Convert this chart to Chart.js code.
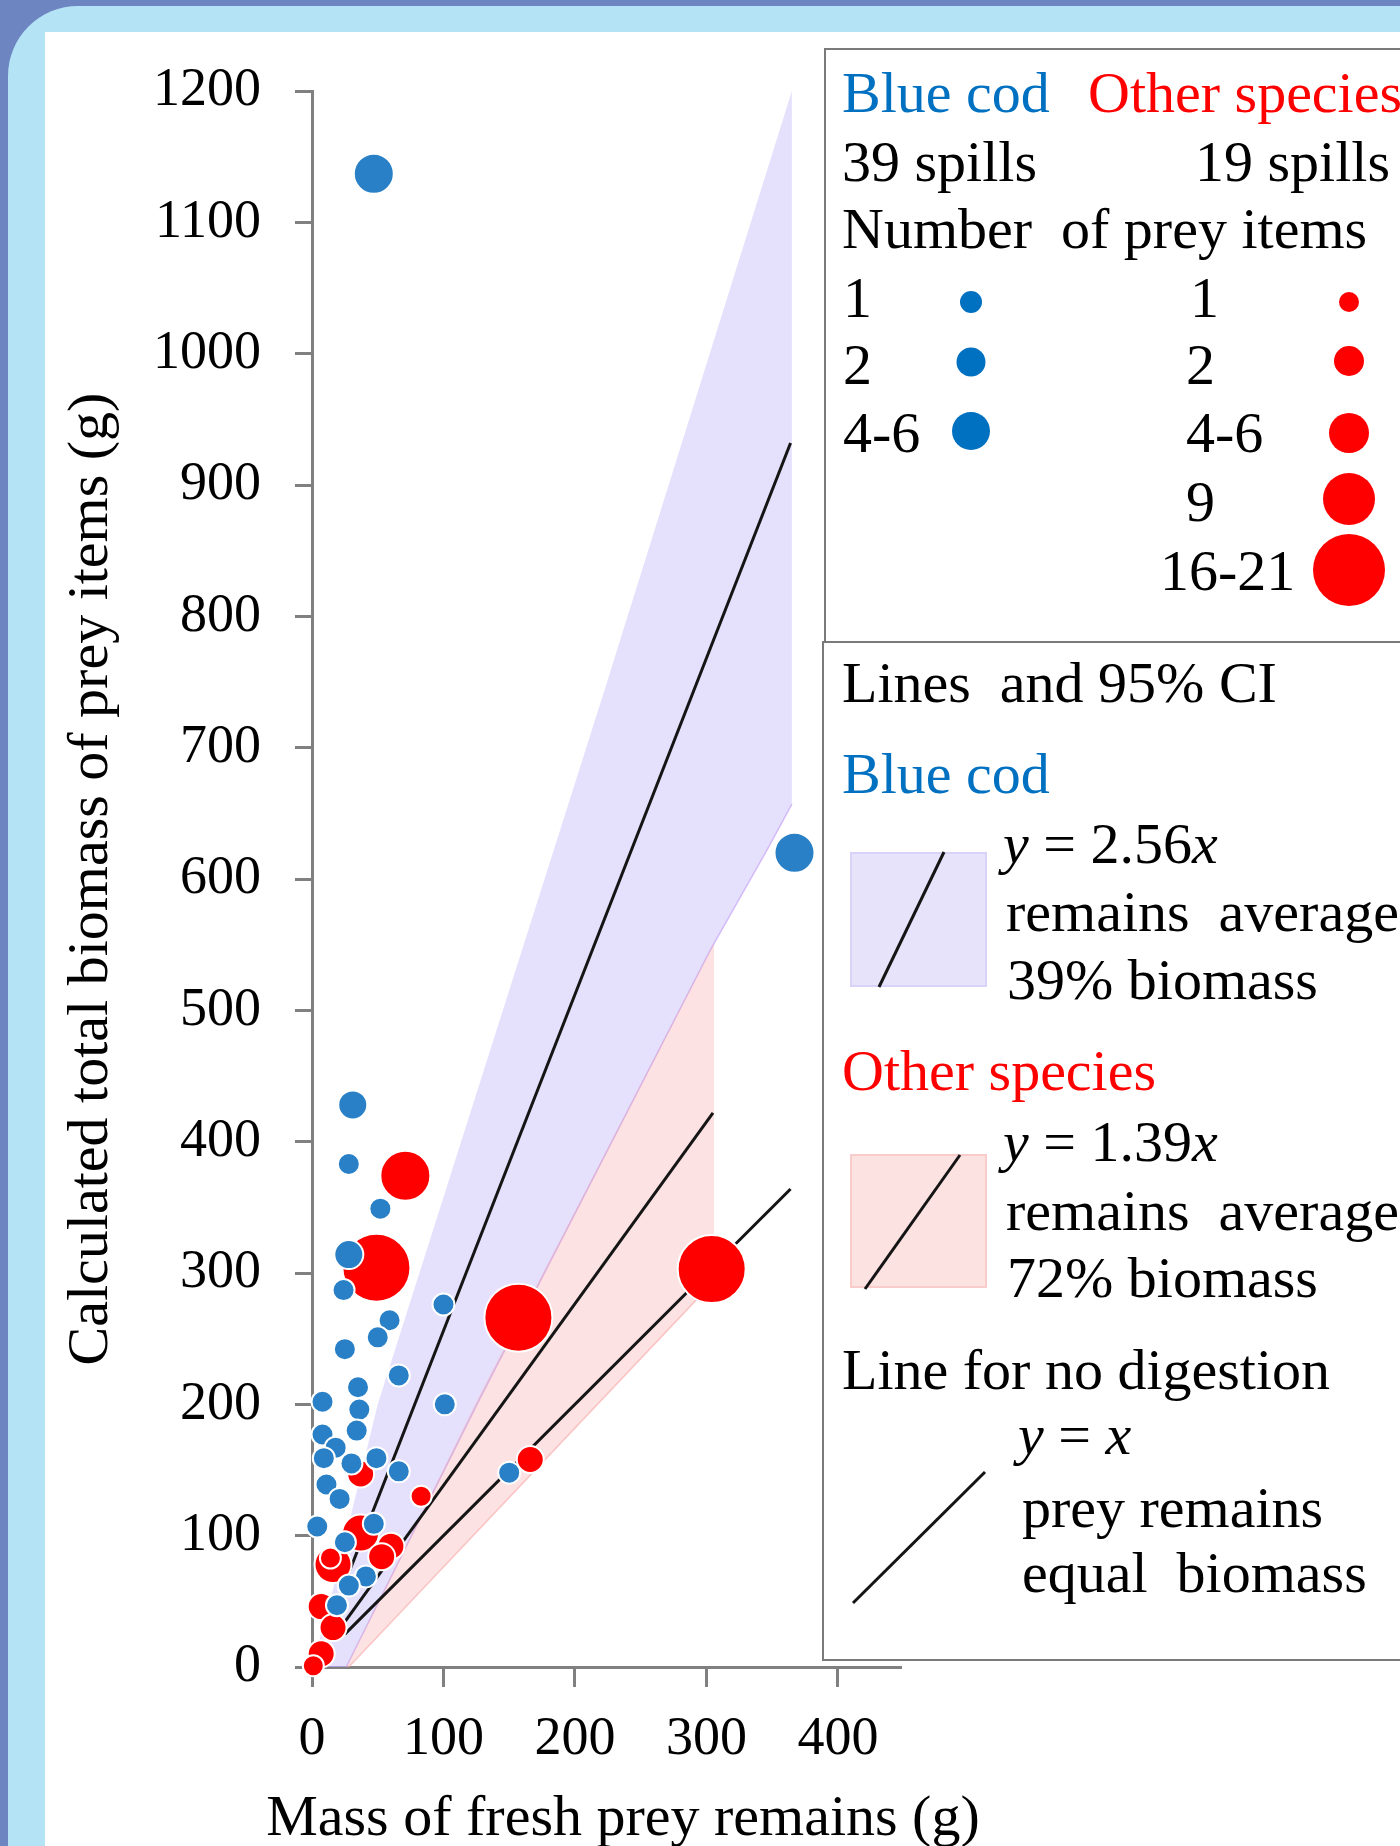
<!DOCTYPE html>
<html lang="en">
<head>
  <meta charset="utf-8">
  <title>Prey remains vs calculated biomass</title>
  <script src="https://cdn.jsdelivr.net/npm/chart.js"></script>
  <style>
    html, body { margin: 0; padding: 0; }
    body {
      width: 1400px; height: 1846px; position: relative; overflow: hidden;
      background: #6d85c0;
      font-family: 'Liberation Serif', 'Times New Roman', serif;
    }
    #frame { position: absolute; left: 8px; top: 6px; width: 1500px; height: 1900px;
             background: #b3e3f5; border-top-left-radius: 70px; }
    #paper { position: absolute; left: 45px; top: 32px; width: 1400px; height: 1846px; background: #fff; }
    #chart { position: absolute; left: 0; top: 0; }
    .box { position: absolute; border: 2px solid #7a7a7a; background: #fff; box-sizing: border-box; }
    #marks { position: absolute; left: 0; top: 0; }
    .t { position: absolute; white-space: pre; line-height: 1; color: #000; }
  </style>
</head>
<body>
  <div id="frame"></div>
  <div id="paper"></div>
  <canvas id="chart" width="1400" height="1846"></canvas>
  <div class="box" style="left:824px; top:48px; width:700px; height:595px;"></div>
  <div class="box" style="left:822px; top:641px; width:700px; height:1020px;"></div>
  <svg id="marks" width="1400" height="1846"></svg>

  <script>
    // axis ticks
    const xTicks = [0, 100, 200, 300, 400];
    const yTicks = [0, 100, 200, 300, 400, 500, 600, 700, 800, 900, 1000, 1100, 1200];

    // prey item classes
    const blueSizes = ['1', '2', '4-6'];
    const redSizes = ['1', '2', '4-6', '9', '16-21'];

    // blue cod spills (x = remains g, y = calculated biomass g, n = index into blueSizes)
    const blueX = [47, 367, 31, 28, 52, 28, 24, 100, 59, 50, 25, 66, 35, 8, 101, 36, 34, 8, 18, 9, 30, 49, 66, 11, 21, 4, 47, 25, 41, 28, 19, 150];
    const blueY = [1137, 620, 428, 383, 349, 314, 287, 276, 264, 251, 242, 222, 213, 202, 200, 196, 180, 177, 167, 159, 155, 159, 149, 139, 128, 107, 109, 95, 69, 62, 47, 148];
    const blueN = [2, 2, 1, 0, 0, 1, 0, 0, 0, 0, 0, 0, 0, 0, 0, 0, 0, 0, 0, 0, 0, 0, 0, 0, 0, 0, 0, 0, 0, 0, 0, 0];

    // other species spills
    const redX = [49, 157, 304, 71, 166, 83, 37, 37, 60, 53, 16, 14, 7, 16, 7, 1];
    const redY = [304, 266, 303, 374, 158, 130, 147, 102, 92, 84, 78, 83, 46, 30, 10, 1];
    const redN = [4, 4, 4, 3, 1, 0, 1, 2, 1, 1, 2, 0, 1, 1, 1, 0];

    // fitted lines (end points)
    const blueFitX = [25, 364];
    const blueFitY = [64, 932];
    const otherFitX = [24, 305];
    const otherFitY = [33, 422];
    const equalX = [25, 364];
    const equalY = [25, 364];

    // 95% CI bands
    const ciBlueUpperX = [0, 14, 50, 220, 365];
    const ciBlueUpperY = [0, 51, 200, 736, 1200];
    const ciBlueLowerX = [0, 26, 127, 303, 346, 365];
    const ciBlueLowerY = [0, 0, 203, 546, 622, 657];
    const ciOtherUpperX = [26, 127, 306];
    const ciOtherUpperY = [0, 206, 552];
    const ciOtherLowerX = [26, 28, 306];
    const ciOtherLowerY = [0, 0, 294];

    const BLUE_TXT = '#0070c0';
    const BLUE_PT = '#2980c6';
    const RED = '#ff0000';
    const blueR = [11, 14.5, 20];
    const redR = [10.5, 13.5, 18.5, 25, 34];

    const pts = (xs, ys) => xs.map((x, i) => ({ x, y: ys[i] }));
    const edge = (xs, ys, fill, color, bw, order) => ({
      data: pts(xs, ys), fill, backgroundColor: color.bg, borderColor: color.line,
      borderWidth: bw, pointRadius: 0, tension: 0, order
    });
    const fitLine = (xs, ys) => ({
      data: pts(xs, ys), borderColor: '#151515', borderWidth: 3,
      pointRadius: 0, fill: false, order: 5
    });

    Chart.defaults.font.family = "'Liberation Serif', 'Times New Roman', serif";
    Chart.defaults.color = '#000';

    const lav = { bg: 'rgba(196,186,250,0.44)', line: 'rgba(196,186,250,0.44)' };
    const lavLow = { bg: 'rgba(0,0,0,0)', line: 'rgba(190,140,240,0.6)' };
    const pink = { bg: 'rgba(245,160,160,0.30)', line: 'rgba(245,160,160,0.3)' };
    const pinkLow = { bg: 'rgba(0,0,0,0)', line: 'rgba(250,170,170,0.6)' };

    new Chart(document.getElementById('chart'), {
      type: 'line',
      data: {
        datasets: [
          edge(ciBlueUpperX, ciBlueUpperY, '+1', lav, 0, 10),
          edge(ciBlueLowerX, ciBlueLowerY, false, lavLow, 1.5, 10),
          edge(ciOtherUpperX, ciOtherUpperY, '+1', pink, 0, 9),
          edge(ciOtherLowerX, ciOtherLowerY, false, pinkLow, 1.5, 9),
          fitLine(blueFitX, blueFitY),
          fitLine(otherFitX, otherFitY),
          fitLine(equalX, equalY),
          {
            label: 'Other species',
            data: pts(redX, redY), showLine: false, order: 2, clip: false,
            pointRadius: redN.map(n => redR[n]),
            pointBackgroundColor: RED, pointBorderColor: '#fff', pointBorderWidth: 2
          },
          {
            label: 'Blue cod',
            data: pts(blueX, blueY), showLine: false, order: 1, clip: false,
            pointRadius: blueN.map(n => blueR[n]),
            pointBackgroundColor: BLUE_PT, pointBorderColor: '#fff', pointBorderWidth: 2
          }
        ]
      },
      options: {
        responsive: false,
        animation: false,
        devicePixelRatio: 1,
        events: [],
        layout: { padding: { left: 0, top: 91, right: 499, bottom: 0 } },
        plugins: { legend: { display: false }, tooltip: { enabled: false } },
        scales: {
          x: {
            type: 'linear', min: 0, max: 448,
            afterBuildTicks: s => { s.ticks = xTicks.map(v => ({ value: v })); },
            afterFit: s => { s.height = 179; },
            border: { color: '#808080', width: 3 },
            grid: { drawOnChartArea: false, drawTicks: true, tickLength: 20, tickColor: '#808080', tickWidth: 3 },
            ticks: { font: { size: 54 }, padding: 20, maxRotation: 0, autoSkip: false, color: '#000',
                     callback: v => String(v) }
          },
          y: {
            type: 'linear', min: 0, max: 1200,
            afterBuildTicks: s => { s.ticks = yTicks.map(v => ({ value: v })); },
            afterFit: s => { s.width = 312; },
            border: { color: '#808080', width: 3 },
            grid: { drawOnChartArea: false, drawTicks: true, tickLength: 17, tickColor: '#808080', tickWidth: 3 },
            ticks: { font: { size: 54 }, padding: 34, color: '#000', callback: v => String(v) },
            title: { display: true, text: 'Calculated total biomass of prey items (g)', color: '#000',
                     font: { size: 58, lineHeight: 1 }, padding: { top: 63, bottom: 0 } }
          }
        }
      }
    });

    // ---- text and legend (HTML text + svg swatches) ----
    const FS = 58;
    function addText(str, x, base, color, html) {
      const el = document.createElement('div');
      el.className = 't';
      el.style.fontSize = FS + 'px';
      el.style.left = x + 'px';
      el.style.top = (base - 0.8375 * FS) + 'px';
      if (color) el.style.color = color;
      if (html) el.innerHTML = str; else el.textContent = str;
      document.body.appendChild(el);
      return el;
    }
    const svg = document.getElementById('marks');
    function shape(tag, attrs) {
      const el = document.createElementNS('http://www.w3.org/2000/svg', tag);
      Object.entries(attrs).forEach(([k, v]) => el.setAttribute(k, v));
      svg.appendChild(el);
    }

    // x axis title (wider than the plot area, so kept out of the canvas)
    const xTitle = addText('Mass of fresh prey remains (g)', 0, 1836);
    xTitle.style.width = '1246px';
    xTitle.style.textAlign = 'center';

    // box 1: symbols by number of prey items
    addText('Blue cod', 842, 113, BLUE_TXT);
    addText('Other species', 1088, 113, RED);
    addText('39 spills', 842, 182);
    addText('19 spills', 1195, 182);
    addText('Number  of prey items', 842, 249);

    const blueRowBase = [318, 385, 453];
    const blueDotY = [302, 362, 431];
    const blueDotR = [11, 14.5, 19];
    blueSizes.forEach((s, i) => {
      addText(s, 843, blueRowBase[i]);
      shape('circle', { cx: 971, cy: blueDotY[i], r: blueDotR[i], fill: BLUE_TXT });
    });
    const redRowBase = [318, 385, 453, 522, 591];
    const redLabelX = [1190, 1186, 1186, 1186, 1160];
    const redDotY = [302, 361, 433, 499, 570];
    const redDotR = [10, 15, 20, 26, 36];
    redSizes.forEach((s, i) => {
      addText(s, redLabelX[i], redRowBase[i]);
      shape('circle', { cx: 1349, cy: redDotY[i], r: redDotR[i], fill: RED });
    });

    // box 2: lines and CI
    addText('Lines  and 95% CI', 842, 703);
    addText('Blue cod', 842, 794, BLUE_TXT);
    shape('rect', { x: 851, y: 853, width: 135, height: 133, fill: '#e7e3fb', stroke: '#d9d3fa', 'stroke-width': 2 });
    shape('line', { x1: 879, y1: 987, x2: 944, y2: 852, stroke: '#151515', 'stroke-width': 3 });
    addText('<i>y</i> = 2.56<i>x</i>', 1003, 864, null, true);
    addText('remains  average', 1006, 932);
    addText('39% biomass', 1007, 1000);

    addText('Other species', 842, 1091, RED);
    shape('rect', { x: 851, y: 1155, width: 135, height: 132, fill: '#fde2e2', stroke: '#f9cccc', 'stroke-width': 2 });
    shape('line', { x1: 865, y1: 1289, x2: 960, y2: 1155, stroke: '#151515', 'stroke-width': 3 });
    addText('<i>y</i> = 1.39<i>x</i>', 1003, 1162, null, true);
    addText('remains  average', 1006, 1231);
    addText('72% biomass', 1007, 1298);

    addText('Line for no digestion', 842, 1390);
    shape('line', { x1: 853, y1: 1603, x2: 985, y2: 1472, stroke: '#151515', 'stroke-width': 3 });
    addText('<i>y</i> = <i>x</i>', 1018, 1455, null, true);
    addText('prey remains', 1022, 1528);
    addText('equal  biomass', 1022, 1593);
  </script>
</body>
</html>
